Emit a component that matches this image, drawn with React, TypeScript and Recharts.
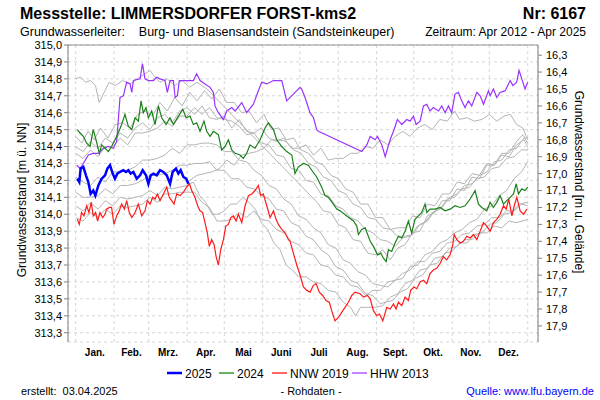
import React from 'react';
import { LineChart, Line, XAxis, YAxis, CartesianGrid, ReferenceLine } from 'recharts';

// ---- axis definitions ----
const monthStarts = [0, 31, 59, 90, 120, 151, 181, 212, 243, 273, 304, 334, 365];
const monthMids = [15.5, 45, 74.5, 105, 135.5, 166, 196.5, 227.5, 258, 288.5, 319, 349.5];
const monthLabels = ['Jan.', 'Feb.', 'Mrz.', 'Apr.', 'Mai', 'Juni', 'Juli', 'Aug.', 'Sept.', 'Okt.', 'Nov.', 'Dez.'];
const levelTicks = [313.3, 313.4, 313.5, 313.6, 313.7, 313.8, 313.9, 314.0, 314.1, 314.2, 314.3, 314.4, 314.5, 314.6, 314.7, 314.8, 314.9, 315.0];
const depthTicks = [16.3, 16.4, 16.5, 16.6, 16.7, 16.8, 16.9, 17.0, 17.1, 17.2, 17.3, 17.4, 17.5, 17.6, 17.7, 17.8, 17.9];
const groundLevel = 331.24;
const levelDomain = [313.245, 315.0];
const dayDomain = [-6.2, 373.3];

// ---- series: [day of year, level m ü. NN] ----
const series2025 = [[1.3,314.21],[2.9,314.19],[4,314.27],[6.2,314.28],[8.3,314.23],[10.2,314.19],[12.1,314.12],[14.2,314.14],[15.9,314.11],[18.3,314.17],[21,314.21],[23.7,314.23],[25.6,314.27],[27.7,314.29],[29.9,314.24],[31.7,314.21],[33.6,314.24],[35.8,314.25],[38.5,314.26],[40.6,314.25],[42.5,314.26],[44.4,314.24],[46.6,314.25],[49.3,314.21],[52,314.23],[54.1,314.26],[56.8,314.23],[58.7,314.18],[60.6,314.23],[62.8,314.24],[65.4,314.23],[68.1,314.26],[70.8,314.25],[73.5,314.23],[76.2,314.18],[78.3,314.25],[81,314.27],[82.9,314.24],[84.8,314.26],[87,314.22],[89.2,314.21],[91,314.18]];

const series2024 = [[1.3,314.50],[3.5,314.48],[6.2,314.46],[8.9,314.42],[11.6,314.40],[14.2,314.50],[16.4,314.44],[19.1,314.36],[21,314.41],[23.7,314.39],[26.4,314.37],[29,314.40],[31.7,314.44],[34.4,314.48],[37.1,314.53],[39.8,314.59],[42.5,314.52],[45.3,314.50],[48,314.57],[50.6,314.55],[52.8,314.67],[54.6,314.60],[56.8,314.63],[58.7,314.57],[61.4,314.61],[64.1,314.53],[66.8,314.64],[69.5,314.57],[73,314.53],[76.2,314.57],[78.9,314.53],[83,314.58],[86.5,314.62],[89.2,314.57],[92.3,314.58],[95,314.53],[97.7,314.54],[100.4,314.49],[103.6,314.55],[105.8,314.49],[108.5,314.46],[111.2,314.49],[115.2,314.47],[117.9,314.38],[120.6,314.40],[123.3,314.44],[126,314.38],[128.7,314.36],[132.7,314.35],[135.4,314.33],[138.1,314.36],[140.8,314.41],[144.8,314.39],[148.9,314.44],[152.9,314.51],[155.6,314.54],[159.7,314.50],[162.3,314.44],[166.4,314.40],[170.4,314.37],[174.5,314.35],[177.1,314.24],[179.8,314.28],[183.9,314.30],[187.9,314.29],[190.6,314.26],[194.6,314.22],[198.7,314.16],[201.3,314.11],[204,314.10],[208.1,314.06],[210.8,314.03],[213.5,314.02],[218.9,313.99],[224.3,313.96],[227,313.93],[228.3,313.88],[231,313.91],[233.7,313.92],[237.8,313.84],[240.4,313.81],[243.7,313.76],[246.4,313.77],[248.5,313.74],[250.7,313.72],[252.5,313.79],[255.2,313.78],[257.9,313.83],[260.6,313.87],[263.3,313.86],[266,313.90],[268.6,313.96],[271.3,313.89],[274,313.97],[276.7,313.99],[279.4,314.01],[282.1,314.06],[283.5,314.01],[286.1,314.03],[290.2,314.03],[294.3,314.04],[298.3,314.02],[302.3,314.03],[306.3,314.05],[310.4,314.04],[314.4,314.05],[318.5,314.09],[322.5,314.14],[325.2,314.06],[327.9,314.04],[331.9,314.02],[334.7,314.07],[337.3,314.04],[340,314.07],[342.7,314.11],[345.4,314.06],[348.1,314.08],[350.8,314.10],[353.5,314.12],[355.7,314.18],[357.5,314.12],[360.2,314.15],[362.9,314.14],[365,314.16]];

const seriesNNW2019 = [[1.3,313.97],[2.9,313.94],[4.8,314.01],[6.7,313.99],[8.9,314.05],[10.7,314.01],[12.6,314.07],[14.2,313.99],[16.1,314.01],[17.7,313.96],[19.6,314.01],[21.8,313.98],[23.7,314.00],[25,314.03],[27.2,314.04],[29,314.04],[30.9,313.94],[33.1,313.99],[35.2,314.02],[37.1,314.06],[39.3,314.03],[41.2,314.08],[43.3,314.01],[45.3,313.98],[48,314.01],[50.6,314.06],[53.3,313.99],[56,314.02],[57.9,314.08],[60.1,314.06],[62.2,314.10],[64.1,314.09],[66,314.12],[68.1,314.08],[70.8,314.12],[73.5,314.16],[75.6,314.10],[77.5,314.08],[79.4,314.06],[81.6,314.12],[84.3,314.11],[87,314.13],[89.6,314.16],[91.8,314.18],[93.7,314.14],[96.3,314.10],[98.5,314.05],[100.4,314.02],[102.5,314.01],[104.4,313.95],[106.3,313.89],[107.9,313.81],[109.8,313.85],[111.8,313.82],[113.4,313.75],[115.2,313.70],[117.1,313.79],[119.3,313.85],[121.2,313.93],[123.3,313.94],[125.2,313.98],[127.3,313.99],[129.5,313.96],[131.4,314.00],[134.1,313.95],[136.8,314.05],[139.5,314.11],[142.2,314.12],[144.8,314.14],[147.5,314.17],[149.4,314.11],[151.5,314.12],[154.3,314.05],[157,313.98],[159.7,314.02],[161.8,313.97],[163.7,313.94],[166.4,313.91],[169.1,313.89],[171.8,313.85],[173.1,313.84],[175.8,313.77],[178.5,313.70],[181.2,313.64],[183.9,313.57],[186.6,313.55],[189.3,313.54],[191.9,313.58],[194.1,313.59],[196.7,313.54],[199.4,313.52],[202.1,313.49],[204.8,313.48],[206.7,313.43],[209.4,313.37],[212.1,313.39],[214.8,313.42],[217.5,313.45],[220.2,313.48],[222.9,313.52],[225.6,313.54],[229.7,313.53],[232.4,313.51],[235.6,313.52],[237.8,313.50],[240.4,313.43],[243.2,313.40],[245.3,313.41],[248,313.37],[251.2,313.45],[253.9,313.44],[256.6,313.47],[258.7,313.44],[260.6,313.48],[263.3,313.46],[266,313.51],[268.6,313.49],[270.5,313.55],[273.2,313.57],[275.4,313.56],[278.1,313.60],[280.8,313.61],[283.5,313.59],[286.1,313.65],[288.8,313.67],[291.5,313.68],[294.3,313.71],[296.9,313.75],[299.6,313.73],[302.3,313.76],[304.5,313.82],[305.6,313.88],[307.7,313.85],[310.4,313.83],[313.1,313.84],[315.8,313.87],[318.5,313.86],[321.2,313.88],[323.9,313.85],[326.6,313.90],[329.3,313.95],[331.9,313.93],[334.7,313.90],[337.3,313.95],[340,313.97],[342.7,314.00],[345.4,314.05],[347.6,314.03],[349.7,314.09],[352.2,313.99],[354.1,314.05],[356.2,314.10],[358.9,314.02],[361.6,314.00],[364.3,314.03]];

const seriesHHW2013 = [[0.8,314.29],[3.5,314.27],[6.2,314.30],[10.2,314.35],[14.2,314.36],[18.3,314.36],[22.3,314.39],[26.4,314.40],[30.4,314.39],[33.1,314.43],[35.8,314.69],[38.5,314.70],[41.2,314.78],[43.9,314.77],[45.3,314.72],[46.6,314.79],[52,314.80],[53.9,314.89],[56,314.80],[58.7,314.79],[62.8,314.79],[65.4,314.81],[68.1,314.80],[72.1,314.79],[74,314.72],[76.2,314.79],[78.9,314.79],[80.3,314.69],[82.1,314.70],[83.7,314.79],[89.6,314.79],[95,314.79],[97.7,314.83],[100.4,314.79],[104.4,314.77],[108.5,314.75],[111.2,314.72],[112.5,314.64],[115.2,314.60],[119.3,314.56],[122,314.61],[126,314.63],[128.7,314.61],[134.1,314.66],[138.1,314.60],[143.5,314.65],[147.5,314.73],[150.2,314.78],[154.3,314.77],[159.7,314.79],[166.4,314.79],[170.4,314.67],[175.8,314.71],[177.1,314.72],[181.2,314.75],[182.5,314.74],[185.2,314.69],[189.2,314.60],[192,314.57],[194.6,314.50],[196,314.49],[231,314.37],[235.1,314.41],[237.8,314.46],[241.8,314.44],[243.7,314.46],[247.2,314.41],[249.9,314.34],[253.9,314.44],[256.6,314.49],[259.8,314.56],[263.3,314.53],[267.3,314.56],[270,314.55],[272.7,314.58],[274.9,314.53],[278.1,314.55],[280.8,314.64],[283.5,314.65],[286.1,314.61],[288.8,314.63],[292.9,314.61],[295.6,314.64],[298.3,314.60],[301,314.64],[303.6,314.60],[306.3,314.71],[309,314.72],[311.7,314.67],[314.4,314.63],[317.1,314.67],[319.8,314.64],[323.9,314.72],[326.6,314.70],[329.3,314.65],[333.3,314.73],[334.7,314.70],[337.3,314.74],[340,314.69],[342.7,314.72],[346.8,314.73],[350.8,314.79],[353,314.76],[356.1,314.78],[358,314.85],[360.2,314.80],[362.8,314.74],[365,314.78]];

// other years (grey)
const greyA = [[0,314.80],[4,314.81],[8,314.78],[12,314.79],[16,314.76],[19,314.66],[23,314.72],[27,314.78],[32,314.76],[38,314.79],[44,314.77],[50,314.80],[56,314.83],[60,314.85],[63,314.82],[68,314.78],[74,314.80],[80,314.76],[86,314.79],[92,314.75],[98,314.78],[104,314.75],[106,314.74],[195,314.07],[200,314.02],[206,314.01],[212,313.94],[218,313.92],[224,313.85],[230,313.84],[236,313.77],[242,313.76],[248,313.79],[254,313.73],[260,313.80],[266,313.82],[272,313.89],[278,313.90],[284,313.99],[290,314.01],[296,314.08],[302,314.08],[308,314.15],[314,314.14],[320,314.22],[326,314.21],[332,314.29],[338,314.29],[344,314.36],[350,314.36],[356,314.43],[361,314.47],[365,314.42]];
const greyB = [[0,314.46],[5,314.42],[10,314.49],[15,314.44],[20,314.51],[26,314.45],[32,314.53],[38,314.54],[44,314.51],[50,314.59],[56,314.61],[62,314.58],[68,314.66],[74,314.61],[80,314.69],[86,314.64],[92,314.72],[98,314.67],[104,314.73],[110,314.68],[116,314.74],[122,314.66],[128,314.66],[134,314.60],[140,314.61],[146,314.54],[152,314.59],[158,314.50],[164,314.51],[170,314.44],[176,314.45],[182,314.38],[188,314.36],[194,314.31],[200,314.29],[206,314.23],[212,314.21],[218,314.15],[224,314.13],[230,314.06],[236,314.06],[242,313.98],[248,313.98],[254,313.91],[260,313.92],[266,313.92],[272,313.99],[278,313.98],[284,314.06],[290,314.05],[296,314.12],[302,314.12],[308,314.19],[314,314.18],[320,314.24],[326,314.23],[332,314.30],[338,314.29],[344,314.35],[350,314.34],[356,314.41],[362,314.44],[365,314.40]];
const greyC = [[0,314.40],[6,314.37],[12,314.43],[18,314.39],[24,314.45],[30,314.42],[36,314.48],[42,314.45],[48,314.51],[54,314.54],[60,314.50],[66,314.57],[72,314.59],[78,314.54],[84,314.61],[90,314.63],[96,314.59],[102,314.64],[108,314.57],[114,314.56],[120,314.58],[126,314.51],[132,314.56],[138,314.49],[144,314.48],[150,314.51],[156,314.45],[162,314.43],[168,314.45],[174,314.39],[180,314.39],[186,314.41],[192,314.35],[198,314.39],[204,314.32],[210,314.33],[216,314.33],[222,314.36],[228,314.36],[234,314.40],[240,314.39],[246,314.44],[252,314.41],[258,314.46],[264,314.49],[270,314.46],[276,314.51],[282,314.53],[288,314.50],[294,314.56],[300,314.55],[306,314.61],[310,314.56],[316,314.57],[322,314.55],[328,314.56],[334,314.59],[340,314.55],[346,314.58],[351,314.59],[356,314.53],[361,314.51],[365,314.44]];
const greyD = [[0,314.36],[6,314.33],[12,314.38],[18,314.34],[24,314.40],[30,314.40],[36,314.45],[42,314.41],[48,314.48],[54,314.48],[60,314.49],[66,314.51],[72,314.55],[78,314.52],[84,314.58],[90,314.58],[96,314.63],[102,314.59],[108,314.63],[114,314.57],[120,314.56],[126,314.55],[132,314.52],[138,314.47],[144,314.48],[150,314.42],[156,314.41],[162,314.35],[168,314.34],[174,314.27],[180,314.26],[186,314.20],[192,314.19],[198,314.12],[204,314.11],[210,314.05],[216,314.03],[222,313.98],[228,313.96],[234,313.91],[240,313.89],[246,313.85],[252,313.84],[258,313.81],[264,313.86],[270,313.87],[276,313.93],[282,313.95],[288,314.01],[294,314.03],[300,314.09],[306,314.10],[312,314.15],[318,314.16],[324,314.21],[330,314.22],[336,314.27],[342,314.28],[348,314.33],[354,314.34],[360,314.38],[365,314.38]];
const greyE = [[0,314.22],[6,314.19],[12,314.17],[18,314.22],[24,314.19],[30,314.25],[36,314.25],[42,314.26],[48,314.28],[54,314.32],[60,314.32],[66,314.33],[72,314.35],[78,314.39],[84,314.36],[90,314.41],[96,314.41],[102,314.42],[108,314.42],[114,314.41],[120,314.37],[126,314.37],[132,314.32],[138,314.31],[144,314.26],[150,314.23],[156,314.17],[162,314.15],[168,314.09],[174,314.06],[180,313.99],[186,313.97],[192,313.92],[198,313.89],[204,313.82],[210,313.80],[216,313.73],[222,313.71],[228,313.66],[234,313.64],[240,313.59],[246,313.58],[252,313.57],[258,313.61],[264,313.62],[270,313.69],[276,313.70],[282,313.76],[288,313.78],[294,313.83],[300,313.85],[306,313.89],[312,313.91],[318,313.95],[324,313.97],[330,314.03],[336,314.05],[342,314.11],[348,314.14],[354,314.21],[360,314.25],[365,314.31]];
const greyF = [[0,314.13],[6,314.10],[12,314.10],[18,314.11],[24,314.15],[30,314.12],[36,314.17],[42,314.17],[48,314.18],[54,314.20],[60,314.23],[66,314.23],[72,314.24],[78,314.26],[84,314.29],[90,314.29],[96,314.30],[102,314.30],[108,314.31],[114,314.26],[120,314.26],[126,314.21],[132,314.21],[138,314.16],[144,314.15],[150,314.11],[156,314.09],[162,314.03],[168,314.02],[174,313.95],[180,313.93],[186,313.87],[192,313.85],[198,313.79],[204,313.76],[210,313.69],[216,313.67],[222,313.61],[228,313.59],[234,313.53],[240,313.52],[246,313.47],[250,313.48],[256,313.49],[262,313.54],[268,313.56],[274,313.62],[280,313.64],[286,313.70],[292,313.71],[298,313.77],[304,313.78],[310,313.83],[316,313.83],[322,313.88],[328,313.89],[334,313.94],[340,313.95],[346,314.00],[352,314.01],[358,314.06],[365,314.07]];
const greyG = [[0,314.05],[6,314.02],[12,314.07],[18,314.03],[24,314.08],[30,314.05],[36,314.10],[42,314.09],[48,314.10],[54,314.11],[60,314.14],[66,314.11],[72,314.16],[78,314.15],[84,314.16],[90,314.17],[95,314.19],[100,314.11],[105,314.07],[110,314.00],[115,314.00],[120,314.02],[125,314.06],[130,314.06],[135,314.10],[140,314.07],[145,314.03],[150,313.95],[155,313.91],[160,313.83],[165,313.79],[170,313.70],[175,313.67],[180,313.63],[186,313.63],[192,313.60],[198,313.59],[204,313.55],[210,313.54],[216,313.48],[222,313.45],[226,313.40],[230,313.45],[236,313.45],[242,313.45],[248,313.46],[254,313.51],[260,313.53],[266,313.59],[272,313.61],[278,313.67],[284,313.68],[290,313.74],[296,313.75],[302,313.80],[308,313.81],[314,313.85],[320,313.85],[326,313.89],[332,313.89],[338,313.93],[344,313.92],[350,313.96],[356,313.95],[365,313.97]];
const greyH = [[0,313.98],[6,313.96],[12,314.01],[18,313.98],[24,314.03],[30,314.00],[36,314.05],[42,314.04],[48,314.05],[54,314.06],[60,314.10],[66,314.07],[72,314.12],[78,314.12],[84,314.13],[90,314.13],[96,314.13],[102,314.07],[108,314.04],[114,313.96],[120,313.96],[126,313.97],[132,314.01],[138,313.98],[144,314.02],[150,313.97],[156,313.96],[162,313.91],[168,313.89],[174,313.84],[180,313.82],[186,313.77],[192,313.76],[198,313.70],[204,313.69],[210,313.64],[216,313.63],[222,313.58],[228,313.57],[234,313.52],[240,313.55],[246,313.55],[252,313.60],[258,313.61],[264,313.65],[270,313.67],[276,313.72],[282,313.72],[288,313.77],[294,313.78],[300,313.83],[306,313.84],[312,313.88],[318,313.89],[324,313.93],[330,313.94],[336,313.98],[342,313.98],[348,314.02],[354,314.02],[360,314.06],[365,314.05]];
const greyI = [[92,314.20],[98,314.23],[104,314.24],[110,314.25],[116,314.27],[122,314.32],[128,314.29],[134,314.35],[140,314.36],[146,314.37],[152,314.39],[158,314.44],[164,314.44],[170,314.43],[176,314.38],[182,314.36],[188,314.30],[194,314.28],[200,314.22],[206,314.20],[212,314.14],[218,314.12],[224,314.06],[230,314.04],[236,313.98],[242,313.97],[248,313.92],[254,313.91],[260,313.87],[266,313.87],[272,313.88],[278,313.94],[284,313.96],[290,314.02],[296,314.04],[302,314.10],[308,314.12],[314,314.17],[320,314.18],[326,314.23],[332,314.25],[338,314.31],[344,314.32],[350,314.38],[356,314.39],[362,314.45],[365,314.45]];

const greySeries = [greyA, greyB, greyC, greyD, greyE, greyF, greyG, greyH, greyI];

const legendItems = [
  { name: '2025', color: '#0000ff', width: 2.5 },
  { name: '2024', color: '#008000', width: 1.2 },
  { name: 'NNW 2019', color: '#ff0000', width: 1.2 },
  { name: 'HHW 2013', color: '#9933ff', width: 1.2 },
];

const toRows = (pts: number[][]) => pts.map(([d, v]) => ({ d, v }));
const fmt = (v: number) => v.toFixed(1).replace('.', ',');
const FONT = '"Liberation Sans", Arial, Helvetica, sans-serif';

export default function App() {
  return (
    <div style={{ position: 'absolute', left: 0, top: 0, width: 600, height: 400, background: '#fff', fontFamily: FONT }}>
      <LineChart width={600} height={400} margin={{ top: 45, right: 0, bottom: 0, left: 0 }}>
        <CartesianGrid xAxisId="grid" yAxisId="level" stroke="#d6d6d6" strokeDasharray="3 3" />
        <XAxis
          xAxisId="grid"
          dataKey="d"
          type="number"
          domain={dayDomain}
          allowDataOverflow
          ticks={monthStarts}
          interval={0}
          height={0}
          tickSize={4}
          tickFormatter={() => ''}
          stroke="#808080"
        />
        <XAxis
          xAxisId="lbl"
          dataKey="d"
          type="number"
          domain={dayDomain}
          allowDataOverflow
          ticks={monthMids}
          interval={0}
          height={58}
          tickLine={false}
          axisLine={false}
          tickSize={4}
          tickMargin={3}
          tickFormatter={(v: number) => monthLabels[monthMids.indexOf(v)] ?? ''}
          tick={{ fontSize: 10, fontWeight: 'bold', fill: '#000', fontFamily: FONT }}
        />
        <YAxis
          yAxisId="level"
          type="number"
          domain={levelDomain}
          allowDataOverflow
          ticks={levelTicks}
          interval={0}
          width={68}
          tickSize={4}
          tickMargin={2}
          tickFormatter={fmt}
          stroke="#808080"
          tick={{ fontSize: 11, fill: '#000', fontFamily: FONT }}
        />
        <YAxis
          yAxisId="depth"
          orientation="right"
          type="number"
          reversed
          domain={[groundLevel - levelDomain[1], groundLevel - levelDomain[0]]}
          allowDataOverflow
          ticks={depthTicks}
          interval={0}
          width={62}
          tickSize={4}
          tickMargin={4}
          tickFormatter={fmt}
          stroke="#808080"
          tick={{ fontSize: 11, fill: '#000', fontFamily: FONT }}
        />
        <ReferenceLine yAxisId="level" xAxisId="grid" y={315.0} stroke="#909090" />
        {greySeries.map((s, i) => (
          <Line
            key={'g' + i}
            xAxisId="grid"
            yAxisId="level"
            data={toRows(s)}
            dataKey="v"
            stroke="#b4b4b4"
            strokeWidth={1}
            dot={false}
            activeDot={false}
            isAnimationActive={false}
            legendType="none"
          />
        ))}
        <Line xAxisId="grid" yAxisId="level" data={toRows(seriesHHW2013)} dataKey="v" name="HHW 2013" stroke="#9933ff" strokeWidth={1.2} dot={false} activeDot={false} isAnimationActive={false} />
        <Line xAxisId="grid" yAxisId="level" data={toRows(seriesNNW2019)} dataKey="v" name="NNW 2019" stroke="#ff1a1a" strokeWidth={1.2} dot={false} activeDot={false} isAnimationActive={false} />
        <Line xAxisId="grid" yAxisId="level" data={toRows(series2024)} dataKey="v" name="2024" stroke="#1a801a" strokeWidth={1.2} dot={false} activeDot={false} isAnimationActive={false} />
        <Line xAxisId="grid" yAxisId="level" data={toRows(series2025)} dataKey="v" name="2025" stroke="#0000ff" strokeWidth={2.5} dot={false} activeDot={false} isAnimationActive={false} />
      </LineChart>
      <svg width={600} height={400} style={{ position: 'absolute', left: 0, top: 0, pointerEvents: 'none' }} fontFamily={FONT}>
        <text x={20} y={19} fontSize={16} fontWeight="bold" fill="#000">Messstelle: LIMMERSDORFER FORST-kms2</text>
        <text x={586} y={19} fontSize={16} fontWeight="bold" fill="#000" textAnchor="end">Nr: 6167</text>
        <text x={20} y={36} fontSize={12.5} fill="#000" style={{ whiteSpace: 'pre' }}>{'Grundwasserleiter:    Burg- und Blasensandstein (Sandsteinkeuper)'}</text>
        <text x={586} y={36} fontSize={12} fill="#000" textAnchor="end">Zeitraum: Apr 2012 - Apr 2025</text>
        <text transform="translate(22,200) rotate(-90)" fontSize={12} fill="#000" textAnchor="middle" dominantBaseline="central">Grundwasserstand [m ü. NN]</text>
        <text transform="translate(579,182) rotate(90)" fontSize={12} fill="#000" textAnchor="middle" dominantBaseline="central">Grundwasserstand [m u. Gelände]</text>
        {legendItems.map((it, i) => {
          const xs = [167, 219, 272, 352][i];
          return (
            <g key={it.name}>
              <line x1={xs} x2={xs + 15} y1={373} y2={373} stroke={it.color} strokeWidth={it.width} />
              <text x={xs + 18} y={377.5} fontSize={12} fill="#000">{it.name}</text>
            </g>
          );
        })}
        <text x={21} y={395} fontSize={11} fill="#000" style={{ whiteSpace: 'pre' }}>{'erstellt:  03.04.2025'}</text>
        <text x={311} y={395} fontSize={11} fill="#000" textAnchor="middle">- Rohdaten -</text>
        <text x={594} y={395} fontSize={11} fill="#0000ff" textAnchor="end">Quelle: www.lfu.bayern.de</text>
      </svg>
    </div>
  );
}
